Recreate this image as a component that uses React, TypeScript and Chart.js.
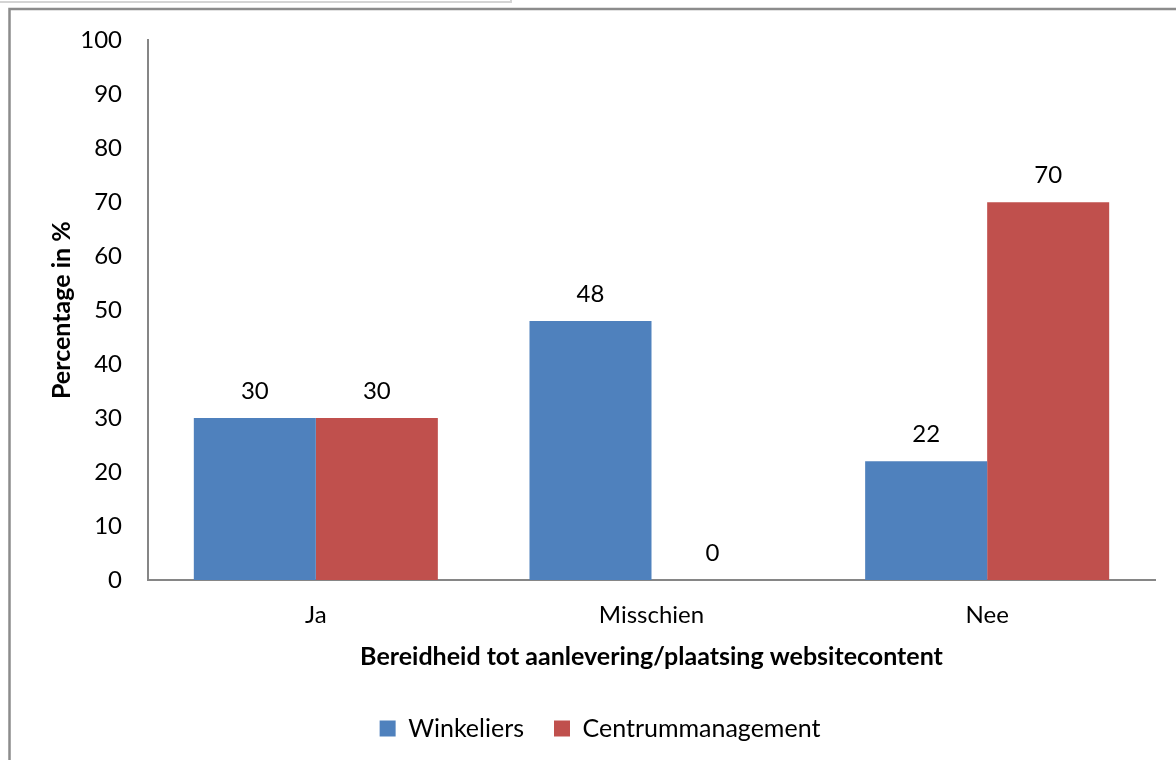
import React, { useEffect, useRef } from "react";
import { Chart, registerables } from "chart.js";

Chart.register(...registerables);

const categories = ["Ja", "Misschien", "Nee"];
const winkeliers = [30, 48, 22];
const centrummanagement = [30, 0, 70];
const seriesNames = ["Winkeliers", "Centrummanagement"];
const yTicksMax = 100;
const yTickStep = 10;

const FONT = "Lato, 'Noto Sans', sans-serif";

const framePlugin = {
  id: "frame",
  beforeDraw(chart: any) {
    const { ctx, width, height } = chart;
    ctx.save();
    ctx.fillStyle = "#ffffff";
    ctx.fillRect(0, 0, width, height);
    ctx.strokeStyle = "#d4d4d4";
    ctx.lineWidth = 2;
    ctx.beginPath();
    ctx.moveTo(0, 2);
    ctx.lineTo(511, 2);
    ctx.lineTo(511, 0);
    ctx.stroke();
    ctx.strokeStyle = "#8c8c8c";
    ctx.lineWidth = 2.5;
    ctx.beginPath();
    ctx.moveTo(9.5, height + 2);
    ctx.lineTo(9.5, 9);
    ctx.lineTo(width + 2, 9);
    ctx.stroke();
    ctx.restore();
  },
};

const labelPlugin = {
  id: "valueLabels",
  afterDatasetsDraw(chart: any) {
    const { ctx } = chart;
    ctx.save();
    ctx.font = `24px ${FONT}`;
    ctx.fillStyle = "#000000";
    ctx.textAlign = "center";
    ctx.textBaseline = "middle";
    chart.data.datasets.forEach((ds: any, di: number) => {
      const meta = chart.getDatasetMeta(di);
      meta.data.forEach((el: any, i: number) => {
        ctx.fillText(String(ds.data[i]), el.x, el.y - 27);
      });
    });
    ctx.restore();
  },
};

export default function App() {
  const ref = useRef<HTMLCanvasElement>(null);
  useEffect(() => {
    if (!ref.current) return;
    const chart = new Chart(ref.current, {
      type: "bar",
      data: {
        labels: categories,
        datasets: [
          {
            label: seriesNames[0],
            data: winkeliers,
            backgroundColor: "#4F81BD",
            barPercentage: 1,
            categoryPercentage: 0.727,
          },
          {
            label: seriesNames[1],
            data: centrummanagement,
            backgroundColor: "#C0504D",
            barPercentage: 1,
            categoryPercentage: 0.727,
          },
        ],
      },
      options: {
        animation: false,
        responsive: true,
        maintainAspectRatio: false,
        layout: { padding: { left: 45, right: 21, top: 40, bottom: 9 } },
        plugins: {
          legend: {
            position: "bottom",
            labels: {
              boxWidth: 16,
              boxHeight: 16,
              padding: 30,
              color: "#000",
              font: { family: FONT, size: 25 },
            },
          },
          tooltip: { enabled: false },
        },
        scales: {
          x: {
            grid: { display: false, drawTicks: false },
            border: { display: true, color: "#868686", width: 2 },
            ticks: { color: "#000", font: { family: FONT, size: 24 }, padding: 21 },
            title: {
              display: true,
              text: "Bereidheid tot aanlevering/plaatsing websitecontent",
              color: "#000",
              font: { family: FONT, size: 25, weight: "bold" },
              padding: { top: 0, bottom: 14 },
            },
            afterFit(scale: any) {
              scale.height = 106;
            },
          },
          y: {
            min: 0,
            max: yTicksMax,
            grid: { display: false, drawTicks: false },
            border: { display: true, color: "#868686", width: 2 },
            ticks: {
              stepSize: yTickStep,
              color: "#000",
              font: { family: FONT, size: 24 },
              padding: 26,
            },
            title: {
              display: true,
              text: "Percentage in %",
              color: "#000",
              font: { family: FONT, size: 25, weight: "bold" },
              padding: { top: 2, bottom: 0 },
            },
            afterFit(scale: any) {
              scale.width = 103;
            },
          },
        },
      },
      plugins: [framePlugin, labelPlugin],
    });
    return () => chart.destroy();
  }, []);
  return (
    <div style={{ position: "fixed", left: 0, top: 0, width: 1176, height: 760 }}>
      <canvas ref={ref} />
    </div>
  );
}
